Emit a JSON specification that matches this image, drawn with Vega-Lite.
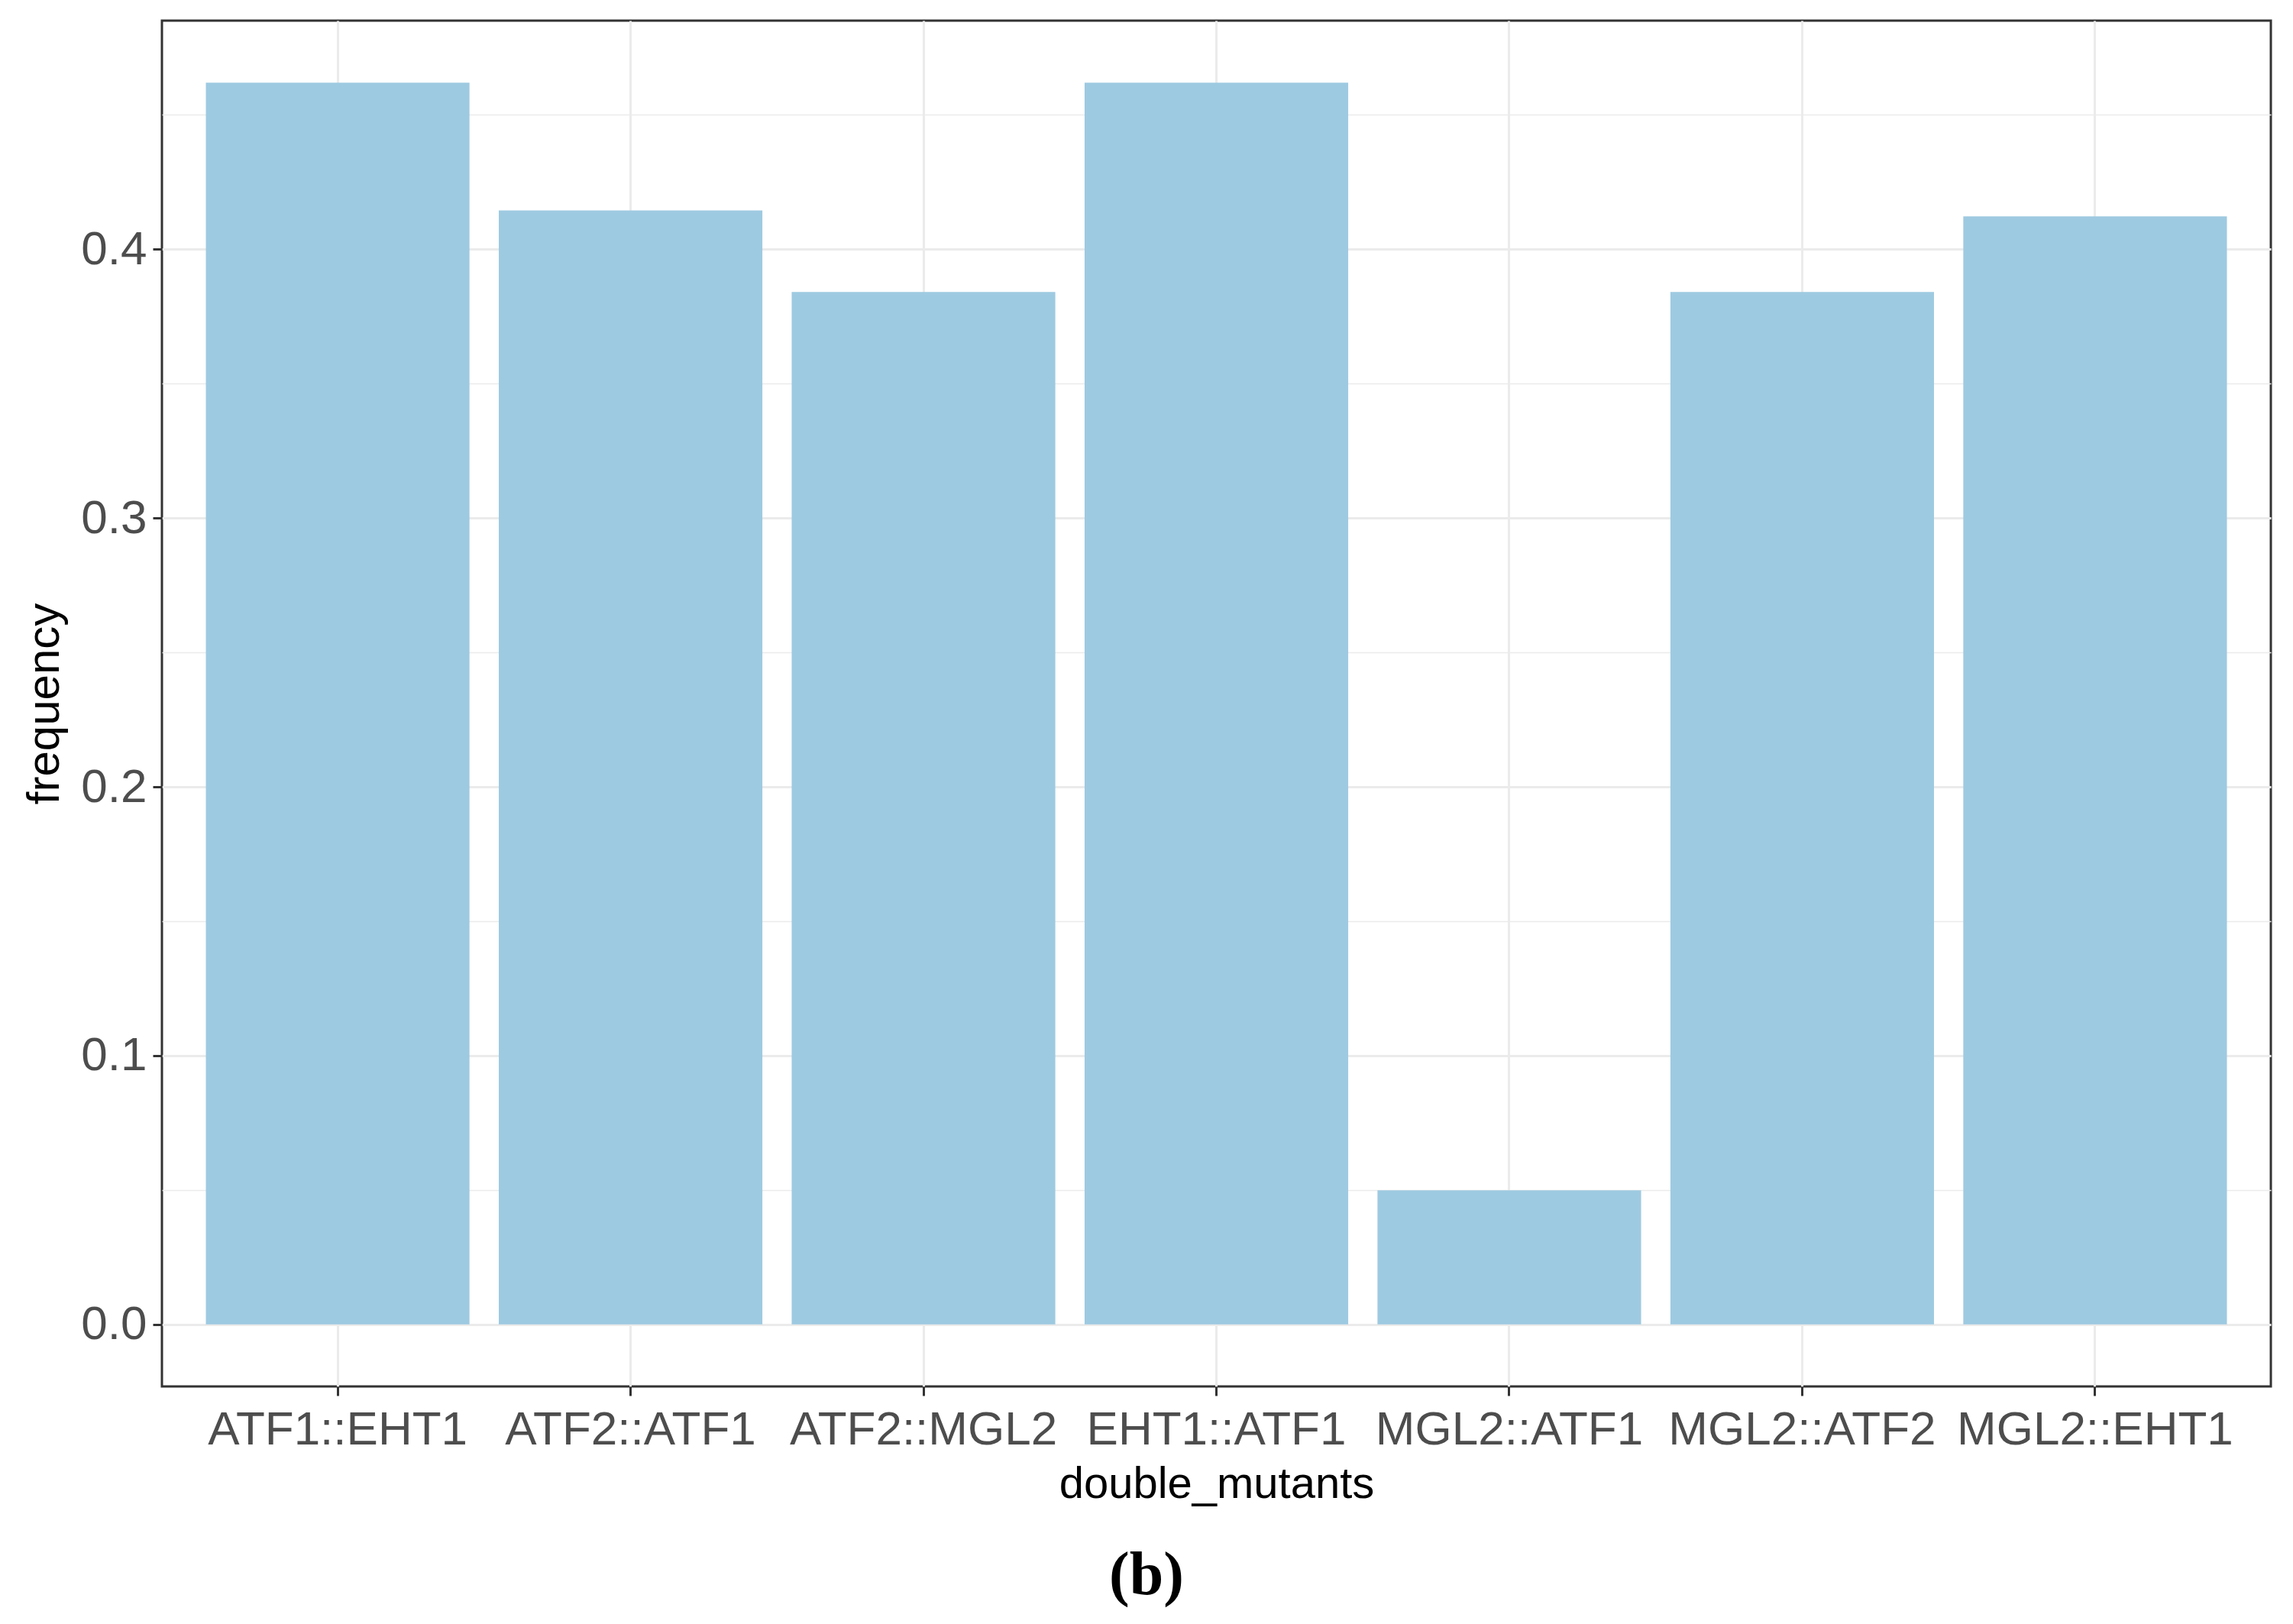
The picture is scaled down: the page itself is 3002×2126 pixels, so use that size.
{
  "$schema": "https://vega.github.io/schema/vega-lite/v6.json",
  "width": 2761,
  "height": 1788,
  "autosize": {"type": "none"},
  "padding": {"left": 212, "top": 27, "right": 29, "bottom": 311},
  "background": "white",
  "config": {
    "view": {"stroke": "#333333", "strokeWidth": 3},
    "font": "Liberation Sans"
  },
  "title": {
    "text": "(b)",
    "orient": "bottom",
    "anchor": "middle",
    "frame": "bounds",
    "font": "Liberation Serif",
    "fontWeight": "bold",
    "fontSize": 80,
    "color": "#000000",
    "offset": 52
  },
  "data": {
    "values": [
      {"double_mutants": "ATF1::EHT1", "frequency": 0.462},
      {"double_mutants": "ATF2::ATF1", "frequency": 0.4145},
      {"double_mutants": "ATF2::MGL2", "frequency": 0.3841},
      {"double_mutants": "EHT1::ATF1", "frequency": 0.462},
      {"double_mutants": "MGL2::ATF1", "frequency": 0.0499},
      {"double_mutants": "MGL2::ATF2", "frequency": 0.3841},
      {"double_mutants": "MGL2::EHT1", "frequency": 0.4123}
    ]
  },
  "mark": {"type": "bar", "color": "#9ECAE1"},
  "encoding": {
    "x": {
      "field": "double_mutants",
      "type": "nominal",
      "sort": null,
      "scale": {"paddingInner": 0.1, "paddingOuter": 0.15},
      "axis": {
        "title": "double_mutants",
        "titleFont": "Liberation Sans",
        "titleFontSize": 58,
        "titleFontWeight": "normal",
        "titleColor": "#000000",
        "titlePadding": 12,
        "labelAngle": 0,
        "labelFontSize": 62,
        "labelLimit": 0,
        "labelColor": "#4D4D4D",
        "labelPadding": 14,
        "domain": false,
        "tickColor": "#333333",
        "tickWidth": 3,
        "tickSize": 12,
        "grid": true,
        "gridColor": "#EBEBEB",
        "gridWidth": 3,
        "bandPosition": 0.5
      }
    },
    "y": {
      "field": "frequency",
      "type": "quantitative",
      "scale": {"domain": [-0.0231, 0.4851], "nice": false, "zero": false},
      "axis": {
        "title": "frequency",
        "titleFont": "Liberation Sans",
        "titleFontSize": 60,
        "titleFontWeight": "normal",
        "titleColor": "#000000",
        "titlePadding": 16,
        "values": [0, 0.05, 0.1, 0.15, 0.2, 0.25, 0.3, 0.35, 0.4, 0.45],
        "labelExpr": "round(datum.value*100) % 10 == 5 ? '' : format(datum.value, '.1f')",
        "labelFontSize": 62,
        "labelColor": "#4D4D4D",
        "labelPadding": 8,
        "domain": false,
        "tickColor": "#333333",
        "tickWidth": 3,
        "tickSize": 12,
        "tickOpacity": {"condition": {"test": "round(datum.value*100) % 10 == 5", "value": 0}, "value": 1},
        "grid": true,
        "gridColor": "#EBEBEB",
        "gridWidth": {"condition": {"test": "round(datum.value*100) % 10 == 5", "value": 1.5}, "value": 3}
      }
    }
  }
}
